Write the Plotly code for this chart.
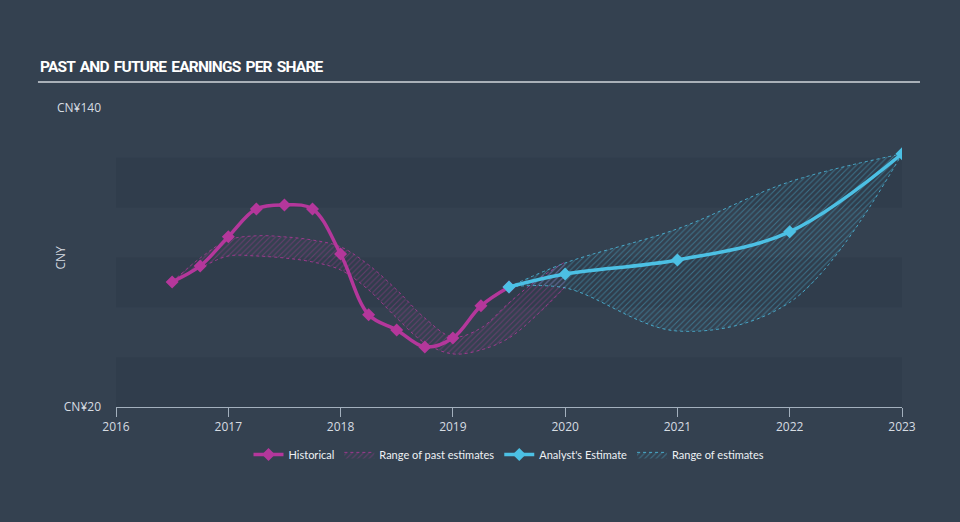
import plotly.graph_objects as go

# Historical EPS
hist_x = [2016.5, 2016.75, 2017.0, 2017.25, 2017.5, 2017.75, 2018.0, 2018.25, 2018.5, 2018.75, 2019.0, 2019.25, 2019.5]
hist_y = [70.2, 76.6, 88.3, 99.5, 101.1, 99.5, 81.4, 57.0, 50.9, 44.1, 47.7, 60.6, 68.2]

# Range of past estimates
past_x = [2016.5, 2016.75, 2017.0, 2017.25, 2017.5, 2017.75, 2018.0, 2018.25, 2018.5, 2018.75, 2019.0, 2019.25, 2019.5, 2019.75, 2020.0]
past_hi = [70.2, 79.8, 87.0, 88.7, 88.3, 87.0, 84.3, 77.0, 67.0, 55.7, 48.1, 51.7, 61.8, 71.0, 78.2]
past_lo = [70.2, 75.8, 80.6, 80.6, 79.8, 78.2, 75.0, 67.0, 55.7, 45.7, 41.3, 42.9, 47.7, 57.0, 68.2]

# Analyst estimate
est_x = [2019.5, 2020.0, 2021.0, 2022.0, 2023.0]
est_y = [68.2, 73.4, 79.0, 90.3, 121.6]
est_hi = [68.2, 77.8, 91.5, 110.4, 121.6]
est_lo = [68.2, 67.8, 50.5, 62.0, 121.6]

year_ticks = [2016, 2017, 2018, 2019, 2020, 2021, 2022, 2023]
band_edges = [20, 40, 60, 80, 100, 120]

MAG = "#b4379b"
CYAN = "#4cc0e4"
BG = "#344150"
TXT = "#d6dce2"

fig = go.Figure()

# past estimates band
fig.add_trace(go.Scatter(x=past_x, y=past_lo, mode="lines", line=dict(color=MAG, width=0.8, dash="dot", shape="spline"),
                         showlegend=False, hoverinfo="skip"))
fig.add_trace(go.Scatter(x=past_x, y=past_hi, mode="lines", line=dict(color=MAG, width=0.8, dash="dot", shape="spline"),
                         fill="tonexty", fillcolor="rgba(180,55,155,0.12)",
                         fillpattern=dict(shape="/", fgcolor="rgba(180,55,155,0.8)", bgcolor="rgba(0,0,0,0)", size=4, solidity=0.25),
                         name="Range of past estimates", legendrank=2, hoverinfo="skip"))

# estimates band
fig.add_trace(go.Scatter(x=est_x, y=est_lo, mode="lines", line=dict(color=CYAN, width=0.8, dash="dot", shape="spline"),
                         showlegend=False, hoverinfo="skip"))
fig.add_trace(go.Scatter(x=est_x, y=est_hi, mode="lines", line=dict(color=CYAN, width=0.8, dash="dot", shape="spline"),
                         fill="tonexty", fillcolor="rgba(76,192,228,0.12)",
                         fillpattern=dict(shape="/", fgcolor="rgba(76,192,228,0.8)", bgcolor="rgba(0,0,0,0)", size=4, solidity=0.25),
                         name="Range of estimates", legendrank=4, hoverinfo="skip"))

fig.add_trace(go.Scatter(x=hist_x, y=hist_y, mode="lines+markers", name="Historical", legendrank=1,
                         line=dict(color=MAG, width=3.5, shape="spline"),
                         marker=dict(symbol="diamond", size=10, color=MAG)))
fig.add_trace(go.Scatter(x=est_x, y=est_y, mode="lines+markers", name="Analyst's Estimate", legendrank=3,
                         line=dict(color=CYAN, width=3.5, shape="spline"),
                         marker=dict(symbol="diamond", size=10, color=CYAN)))

shapes = []
for i in range(0, len(band_edges) - 1, 2):
    shapes.append(dict(type="rect", xref="x", yref="y", x0=year_ticks[0], x1=year_ticks[-1],
                       y0=band_edges[i], y1=band_edges[i + 1], fillcolor="rgba(20,30,45,0.10)",
                       line=dict(width=0), layer="below"))
shapes.append(dict(type="line", xref="paper", yref="paper", x0=-0.0993, x1=1.0229, y0=1.087, y1=1.087,
                   line=dict(color="#a9b0b8", width=2)))

fig.update_layout(
    width=960, height=522,
    margin=dict(l=116, r=58, t=108, b=115),
    paper_bgcolor=BG, plot_bgcolor=BG,
    shapes=shapes,
    showlegend=True,
    legend=dict(orientation="h", x=0.5, xanchor="center", y=-0.11, yanchor="top",
                font=dict(color="#eef1f4", size=11, family="Lato, Open Sans, sans-serif"),
                bgcolor="rgba(0,0,0,0)", itemwidth=30, traceorder="normal"),
    xaxis=dict(range=[2016, 2023], tickvals=year_ticks, ticktext=[str(y) for y in year_ticks],
               showgrid=False, zeroline=False, showline=True, linecolor="#a3b0bd", linewidth=1,
               ticks="outside", ticklen=9, tickcolor="#a3b0bd",
               tickfont=dict(color=TXT, size=12, family="Open Sans, sans-serif")),
    yaxis=dict(range=[20, 140], tickvals=[20, 140], ticktext=["CN¥20", "CN¥140"],
               showgrid=False, zeroline=False, showline=False, ticklabelstandoff=14,
               tickfont=dict(color=TXT, size=12, family="Open Sans, sans-serif")),
    annotations=[
        dict(text="<span style=\"letter-spacing:-0.8px;word-spacing:2px\"><b>PAST AND FUTURE EARNINGS PER SHARE</b></span>",
             xref="paper", yref="paper",
             x=-0.0993, y=1.1, xanchor="left", yanchor="bottom", showarrow=False,
             font=dict(color="#ffffff", size=15.5, family="Roboto, sans-serif")),
        dict(text="CNY", xref="paper", yref="paper", x=-0.0712, y=0.5, xanchor="center", yanchor="middle",
             textangle=-90, showarrow=False, font=dict(color=TXT, size=12, family="Open Sans, sans-serif")),
    ],
)

fig.write_html("out.html")
